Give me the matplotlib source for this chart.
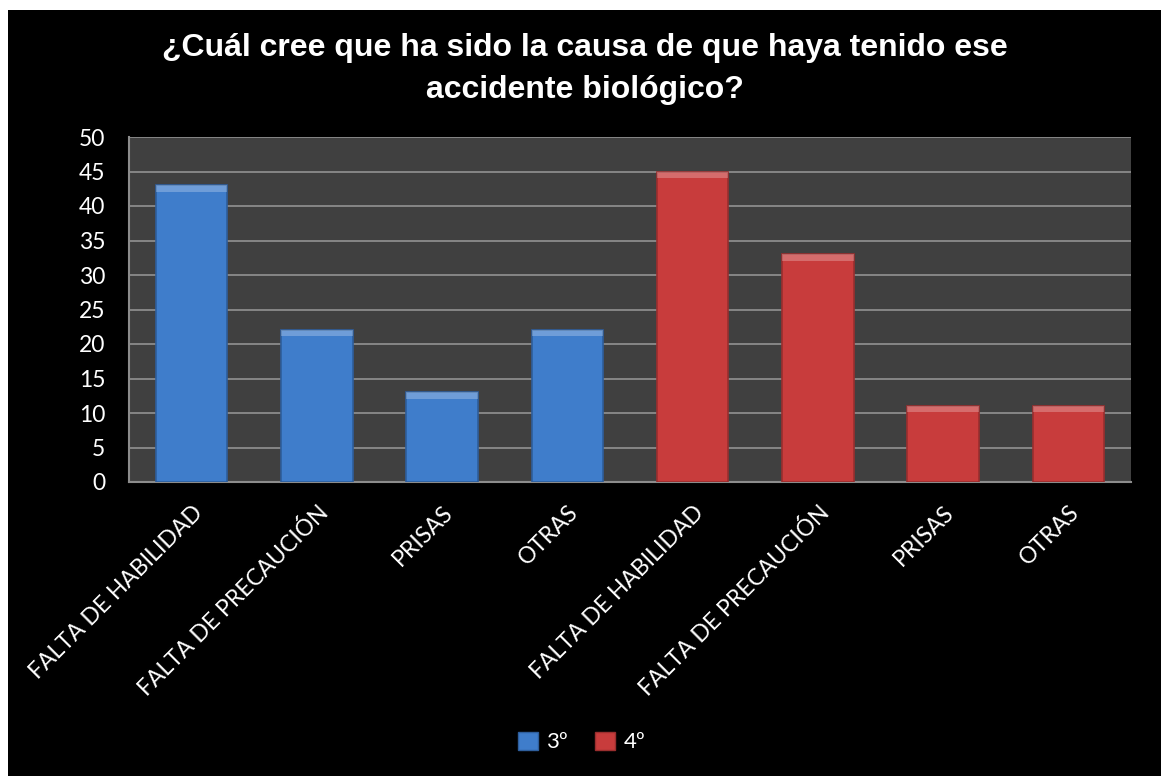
#Import required libraries
import matplotlib
matplotlib.use("Agg")
import matplotlib.pyplot as plt
from matplotlib.patches import Rectangle, Patch
import numpy as np

#Chart data
categories = ["FALTA DE HABILIDAD", "FALTA DE PRECAUCIÓN", "PRISAS", "OTRAS",
              "FALTA DE HABILIDAD", "FALTA DE PRECAUCIÓN", "PRISAS", "OTRAS"]
series_names = ["3º", "4º"]
values_3 = [43, 22, 13, 22]
values_4 = [45, 33, 11, 11]

blue = "#3F7DCB"
red = "#C83C3C"

fig = plt.figure(figsize=(11.63, 7.76), dpi=100, facecolor="white")
#Black chart area with a thin white border
fig.patches.append(Rectangle((8 / 1163, 0), 1153 / 1163, 766 / 776,
                             transform=fig.transFigure, facecolor="black",
                             edgecolor="none", zorder=-10))

ax = fig.add_axes([129 / 1163, 1 - 482 / 776, 1002 / 1163, 345 / 776])
ax.set_facecolor("#404040")

x = np.arange(len(categories))
heights = values_3 + values_4
colors = [blue] * len(values_3) + [red] * len(values_4)
edges = ["#2E5E9C"] * len(values_3) + ["#9A2E2E"] * len(values_4)
ax.bar(x, heights, width=0.57, color=colors, edgecolor=edges, linewidth=1.2, zorder=3)

#Light bevel on top of each bar
for xi, h in zip(x, heights):
    ax.bar(xi, 0.9, bottom=h - 0.9, width=0.57, color="white", alpha=0.25,
           linewidth=0, zorder=4)

ax.set_xlim(-0.5, len(categories) - 0.5)
ax.set_ylim(0, 50)
ax.set_yticks(range(0, 51, 5))
ax.yaxis.grid(True, color="#8C8C8C", linewidth=1.3, zorder=0)
ax.set_axisbelow(True)

for side in ["top", "right"]:
    ax.spines[side].set_visible(False)
for side in ["left", "bottom"]:
    ax.spines[side].set_color("#8C8C8C")
    ax.spines[side].set_linewidth(1.5)

ax.tick_params(axis="both", length=0, colors="white", labelsize=16.5)
ax.tick_params(axis="y", pad=17)
ax.tick_params(axis="x", pad=14)
ax.set_xticks(x)
ax.set_xticklabels(categories, rotation=45, ha="right", va="top",
                   rotation_mode="anchor", fontfamily="Lato", fontsize=16.5)
for lbl in ax.get_yticklabels():
    lbl.set_fontfamily("Lato")

fig.text(0.503, 1 - 69 / 776,
         "¿Cuál cree que ha sido la causa de que haya tenido ese\naccidente biológico?",
         ha="center", va="center", color="white", fontsize=23, fontweight="bold",
         fontfamily="Liberation Sans", linespacing=1.5)

handles = [Patch(facecolor=blue, edgecolor="#2E5E9C"),
           Patch(facecolor=red, edgecolor="#9A2E2E")]
fig.legend(handles, series_names, loc="center", bbox_to_anchor=(0.5, 1 - 742 / 776),
           ncol=2, frameon=False, labelcolor="white", handlelength=0.9,
           handleheight=0.9, handletextpad=0.4, columnspacing=1.2,
           prop={"family": "Lato", "size": 16})

fig.savefig("out.png", dpi=100, facecolor="white")
